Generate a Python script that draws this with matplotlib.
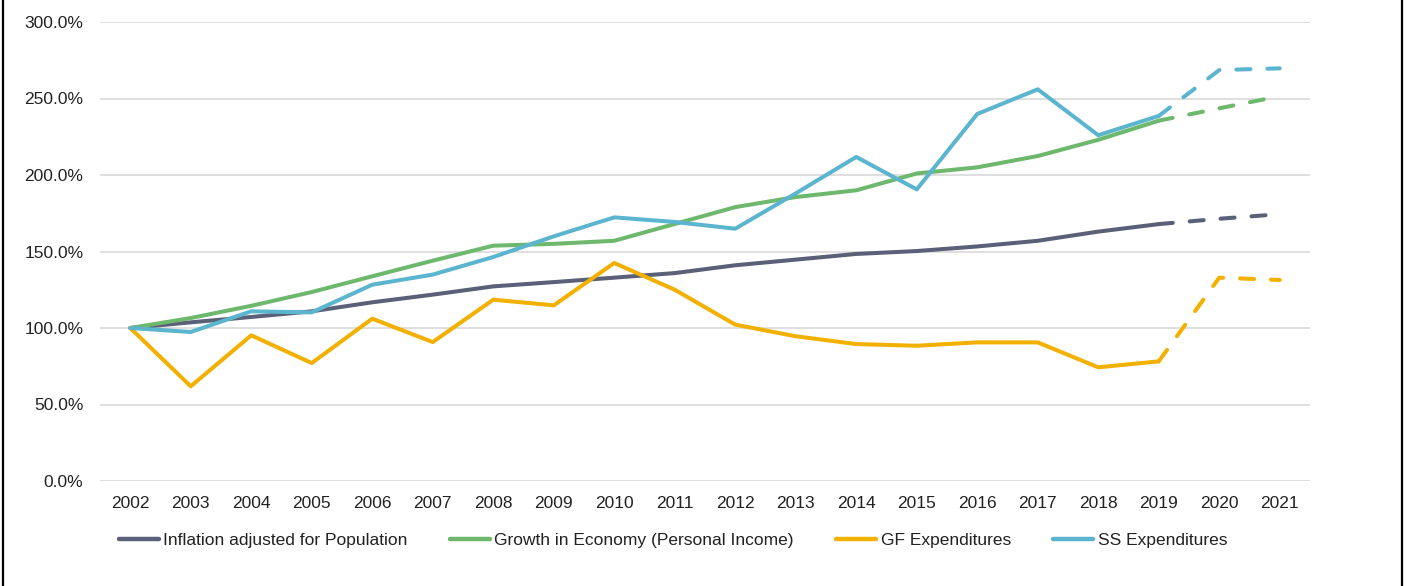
import matplotlib
matplotlib.use("Agg")
import matplotlib.pyplot as plt
from matplotlib.lines import Line2D
from matplotlib.ticker import FuncFormatter

plt.rcParams['font.family'] = ['Liberation Sans', 'DejaVu Sans']

# ---- data (index, 2002 = 100%) ----
years = [str(y) for y in range(2002, 2022)]
inflation_pop = [100, 103.7, 107.2, 110.9, 116.8, 121.8, 127.2, 130.0, 132.9, 135.9,
                 141.0, 144.7, 148.4, 150.3, 153.3, 157.0, 163.0, 167.9, 171.4, 174.4]
growth_economy = [100, 106.5, 114.5, 123.5, 133.8, 144.0, 153.8, 155.0, 157.0, 168.0,
                  179.0, 185.6, 190.0, 201.0, 205.0, 212.4, 223.0, 235.5, 243.6, 251.5]
gf_expend = [100, 61.9, 95.2, 77.1, 106.1, 90.8, 118.5, 114.8, 142.5, 125.0,
             102.2, 94.6, 89.5, 88.4, 90.6, 90.6, 74.3, 78.2, 132.9, 131.4]
ss_expend = [100, 97.4, 110.9, 110.2, 128.3, 134.9, 146.4, 159.9, 172.3, 169.3,
             164.9, 188.0, 211.8, 190.6, 239.9, 256.0, 226.0, 238.6, 268.6, 269.7]

labels = ['Inflation adjusted for Population', 'Growth in Economy (Personal Income)',
          'GF Expenditures', 'SS Expenditures']
colors = ['#596077', '#6db86d', '#f2b000', '#5cb5cf']
series = [inflation_pop, growth_economy, gf_expend, ss_expend]
last_actual = years.index('2019')  # after this point values are projections (dashed)

W, H = 1417, 586
fig = plt.figure(figsize=(W / 100, H / 100), dpi=100)
ax = fig.add_axes([100 / W, 105 / H, 1210 / W, 459 / H])

x = list(range(len(years)))
for vals, col in zip(series, colors):
    ax.plot(x[:last_actual + 1], vals[:last_actual + 1], color=col, lw=2.9,
            solid_capstyle='round', solid_joinstyle='round', zorder=3)
    ax.plot(x[last_actual:], vals[last_actual:], color=col, lw=2.9,
            dashes=(3.5, 4.2), dash_capstyle='round', zorder=3)

ax.set_xlim(-0.5, len(years) - 0.5)
ax.set_ylim(0, 300)
ax.set_yticks(range(0, 301, 50))
ax.yaxis.set_major_formatter(FuncFormatter(lambda v, p: f"{v:.1f}%"))
ax.set_xticks(x)
ax.set_xticklabels(years)
ax.tick_params(axis='both', length=0, labelsize=12.5, colors='#222222')
ax.tick_params(axis='x', pad=11)
ax.tick_params(axis='y', pad=12)
ax.grid(True, axis='y', color='#d9d9d9', lw=1.2, zorder=0)
ax.set_axisbelow(True)
for s in ax.spines.values():
    s.set_visible(False)

handles = [Line2D([0], [0], color=c, lw=3.2, solid_capstyle='round') for c in colors]
fig.legend(handles, labels, loc='center', bbox_to_anchor=(673 / W, 46 / H), ncol=4,
           frameon=False, fontsize=12.5, handlelength=2.3, handletextpad=0.25,
           columnspacing=2.45, labelcolor='#222222')

# chart border (left and right edges)
for xe in (3 / W, 1402 / W):
    fig.add_artist(Line2D([xe, xe], [0, 1], transform=fig.transFigure, color='black', lw=1.6))

fig.savefig('out.png', dpi=100)
